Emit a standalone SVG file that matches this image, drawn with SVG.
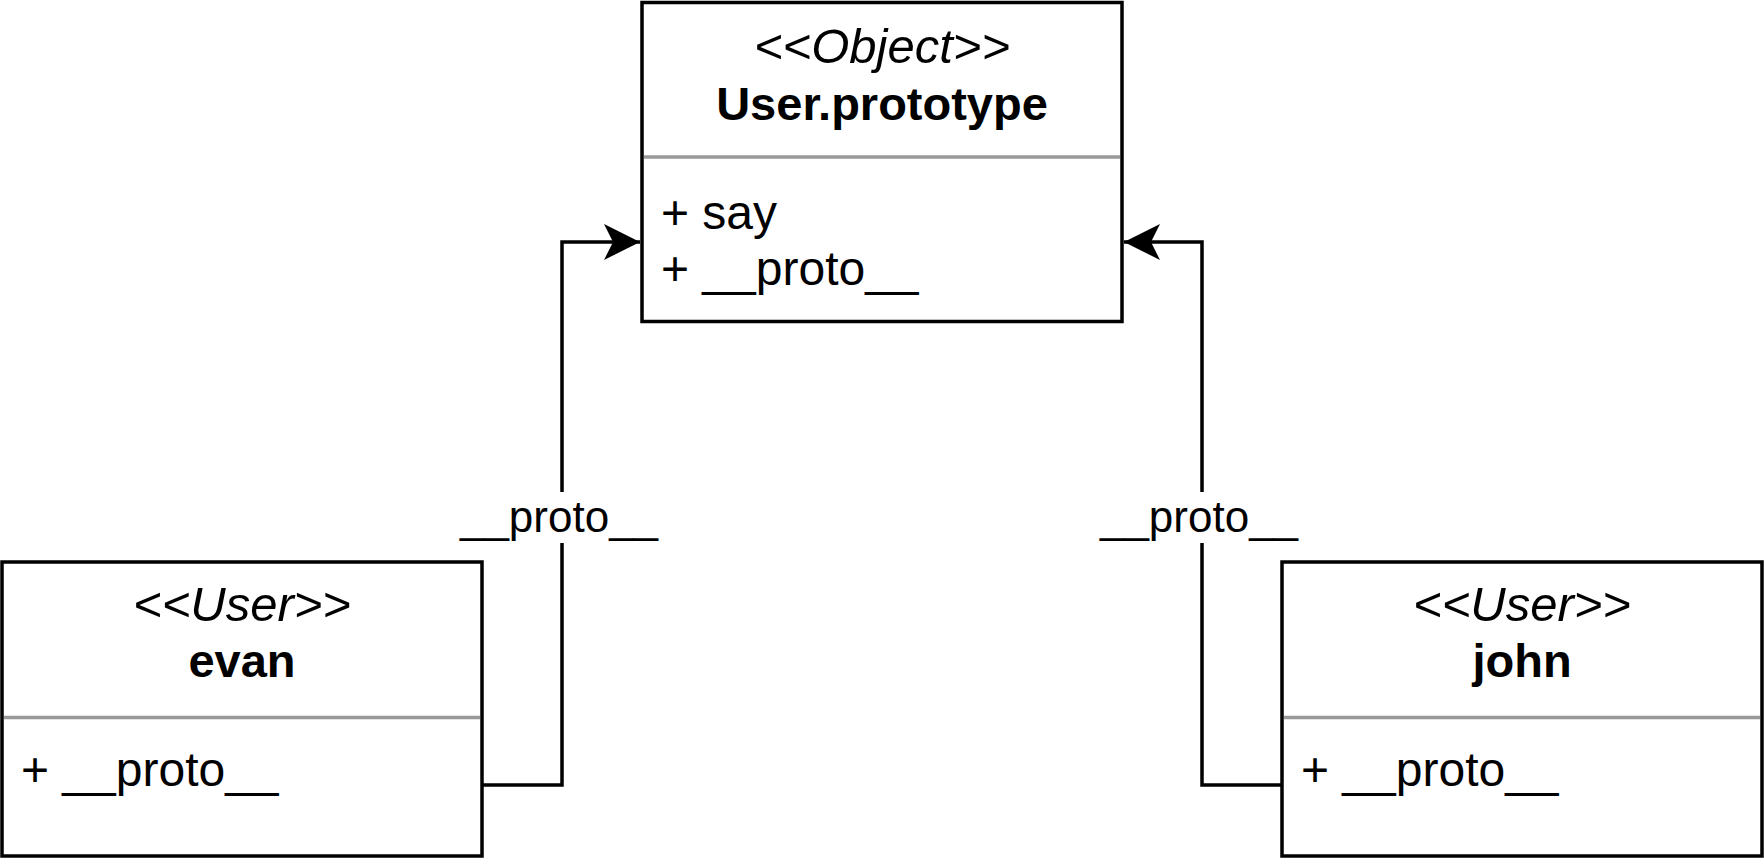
<svg xmlns="http://www.w3.org/2000/svg" width="1764" height="860" viewBox="0 0 1764 860">
<style>
.box{fill:#fff;stroke:#000;stroke-width:3.5}
.sep{stroke:#999;stroke-width:3.5}
.st{font-family:"Liberation Sans",Arial,Helvetica,sans-serif;font-style:italic;font-size:49px;text-anchor:middle;fill:#000}
.nm{font-family:"Liberation Sans",Arial,Helvetica,sans-serif;font-weight:bold;font-size:47px;text-anchor:middle;fill:#000}
.at{font-family:"Liberation Sans",Arial,Helvetica,sans-serif;font-size:48px;fill:#000}
.edge{fill:none;stroke:#000;stroke-width:3.5}
.lbl{font-family:"Liberation Sans",Arial,Helvetica,sans-serif;font-size:44px;text-anchor:middle;fill:#000}
</style>
<defs>
<marker id="arr" markerUnits="userSpaceOnUse" markerWidth="38" markerHeight="38" viewBox="0 0 38 38" refX="37" refY="19" orient="auto">
<path d="M37,19 L1,1 L10,19 L1,37 Z" fill="#000"/>
</marker>
</defs>
<g id="connectors">
<path class="edge" d="M482,785 H562 V242 H640" marker-end="url(#arr)"/>
<rect x="515" y="492" width="90" height="51" fill="#fff"/>
<text class="lbl" x="559" y="532">__proto__</text>
<path class="edge" d="M1282,785 H1202 V242 H1124" marker-end="url(#arr)"/>
<rect x="1155" y="492" width="90" height="51" fill="#fff"/>
<text class="lbl" x="1199" y="532">__proto__</text>
</g>
<g id="user-prototype">
<rect class="box" x="642" y="2.5" width="480" height="319"/>
<line class="sep" x1="644" y1="157" x2="1120" y2="157"/>
<text class="st" x="882" y="63">&lt;&lt;Object&gt;&gt;</text>
<text class="nm" x="882" y="120">User.prototype</text>
<text class="at" x="661" y="229">+ say</text>
<text class="at" x="661" y="285">+ __proto__</text>
</g>
<g id="evan">
<rect class="box" x="2" y="562" width="480" height="294"/>
<line class="sep" x1="4" y1="717.5" x2="480" y2="717.5"/>
<text class="st" x="242" y="621">&lt;&lt;User&gt;&gt;</text>
<text class="nm" x="242" y="677">evan</text>
<text class="at" x="21" y="786">+ __proto__</text>
</g>
<g id="john">
<rect class="box" x="1282" y="562" width="480" height="294"/>
<line class="sep" x1="1284" y1="717.5" x2="1760" y2="717.5"/>
<text class="st" x="1522" y="621">&lt;&lt;User&gt;&gt;</text>
<text class="nm" x="1522" y="677">john</text>
<text class="at" x="1301" y="786">+ __proto__</text>
</g>
</svg>
